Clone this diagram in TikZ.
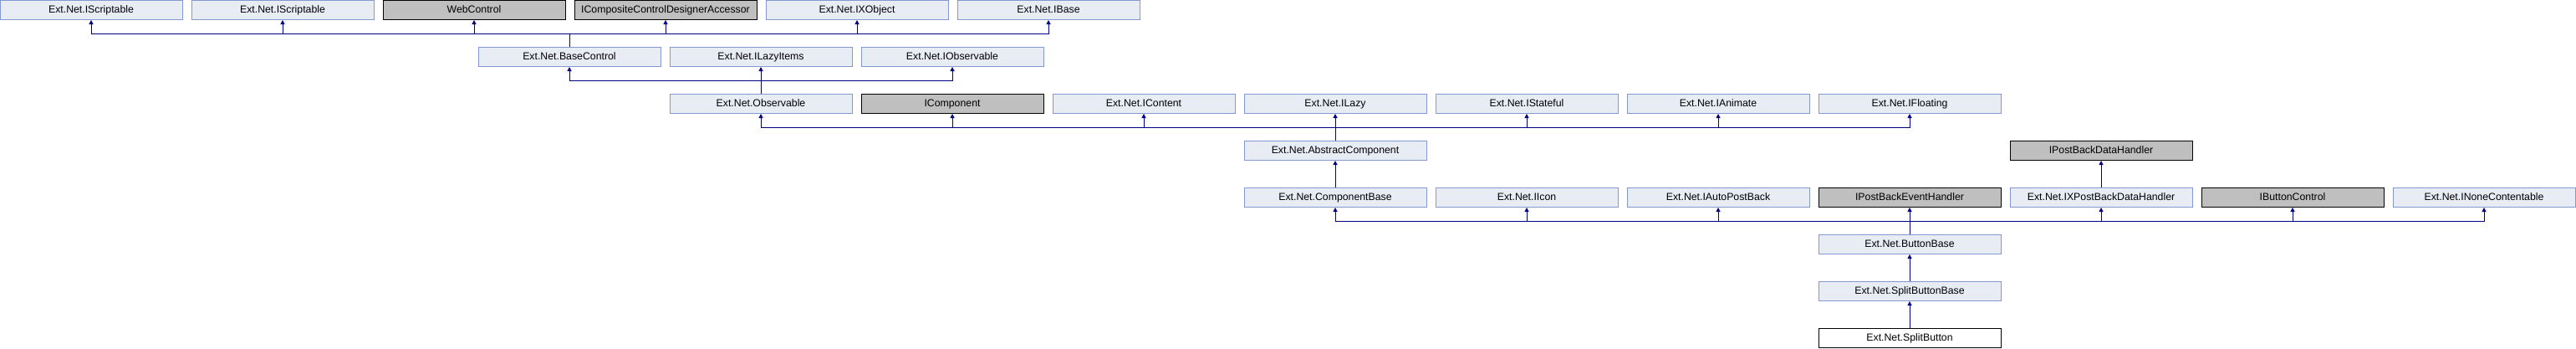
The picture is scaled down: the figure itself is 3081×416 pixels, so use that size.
\documentclass[tikz,border=0pt]{standalone}
\usepackage{fontspec}
\setmainfont{Liberation Sans}
\usepackage{tikz}
\usetikzlibrary{arrows.meta,calc}
\definecolor{boxfill}{RGB}{232,236,245}
\definecolor{boxline}{RGB}{132,151,206}
\definecolor{extfill}{RGB}{191,191,191}
\definecolor{edgecol}{RGB}{0,0,132}

\begin{document}
\begin{tikzpicture}[x=1pt,y=-1pt,
    every node/.style={inner sep=0,outer sep=0,minimum width=218pt,minimum height=23pt,
        text height=9.8pt,text depth=1pt,
        font=\fontsize{12.3}{14}\selectfont,line width=1pt},
    cls/.style={draw=boxline,fill=boxfill},
    ext/.style={draw=black,fill=extfill},
    self/.style={draw=black,fill=white},
    link/.style={draw=edgecol,line width=1pt,shorten >=1pt,
        -{Triangle[length=5pt,width=5pt]}}]
    \useasboundingbox (0,0) rectangle (3081,416);
    % row 0
    \node[cls](is1)   at (109,11.5)  {Ext.Net.IScriptable};
    \node[cls](is2)   at (338,11.5)  {Ext.Net.IScriptable};
    \node[ext](wc)    at (567,11.5)  {WebControl};
    \node[ext](iccda) at (796,11.5)  {ICompositeControlDesignerAccessor};
    \node[cls](ixo)   at (1025,11.5) {Ext.Net.IXObject};
    \node[cls](ib)    at (1254,11.5) {Ext.Net.IBase};
    % row 1
    \node[cls](bc)    at (681,67.5)  {Ext.Net.BaseControl};
    \node[cls](ili)   at (910,67.5)  {Ext.Net.ILazyItems};
    \node[cls](iobs)  at (1139,67.5) {Ext.Net.IObservable};
    % row 2
    \node[cls](obs)   at (910,123.5)  {Ext.Net.Observable};
    \node[ext](icomp) at (1139,123.5) {IComponent};
    \node[cls](icont) at (1368,123.5) {Ext.Net.IContent};
    \node[cls](ilazy) at (1597,123.5) {Ext.Net.ILazy};
    \node[cls](ist)   at (1826,123.5) {Ext.Net.IStateful};
    \node[cls](ian)   at (2055,123.5) {Ext.Net.IAnimate};
    \node[cls](ifl)   at (2284,123.5) {Ext.Net.IFloating};
    % row 3
    \node[cls](abs)   at (1597,179.5) {Ext.Net.AbstractComponent};
    \node[ext](ipbdh) at (2513,179.5) {IPostBackDataHandler};
    % row 4
    \node[cls](cb)    at (1597,235.5) {Ext.Net.ComponentBase};
    \node[cls](iicon) at (1826,235.5) {Ext.Net.IIcon};
    \node[cls](iapb)  at (2055,235.5) {Ext.Net.IAutoPostBack};
    \node[ext](ipbeh) at (2284,235.5) {IPostBackEventHandler};
    \node[cls](ixpb)  at (2513,235.5) {Ext.Net.IXPostBackDataHandler};
    \node[ext](ibc)   at (2742,235.5) {IButtonControl};
    \node[cls](inc)   at (2971,235.5) {Ext.Net.INoneContentable};
    % rows 5-7
    \node[cls](bb)    at (2284,291.5) {Ext.Net.ButtonBase};
    \node[cls](sbb)   at (2284,347.5) {Ext.Net.SplitButtonBase};
    \node[self](sb)   at (2284,403.5) {Ext.Net.SplitButton};

    \draw[link] (bc.north) -- ++(0,-16) -| (is1.south);
    \draw[link] (bc.north) -- ++(0,-16) -| (is2.south);
    \draw[link] (bc.north) -- ++(0,-16) -| (wc.south);
    \draw[link] (bc.north) -- ++(0,-16) -| (iccda.south);
    \draw[link] (bc.north) -- ++(0,-16) -| (ixo.south);
    \draw[link] (bc.north) -- ++(0,-16) -| (ib.south);

    \draw[link] (obs.north) -- ++(0,-16) -| (bc.south);
    \draw[link] (obs.north) -- (ili.south);
    \draw[link] (obs.north) -- ++(0,-16) -| (iobs.south);

    \draw[link] (abs.north) -- ++(0,-16) -| (obs.south);
    \draw[link] (abs.north) -- ++(0,-16) -| (icomp.south);
    \draw[link] (abs.north) -- ++(0,-16) -| (icont.south);
    \draw[link] (abs.north) -- (ilazy.south);
    \draw[link] (abs.north) -- ++(0,-16) -| (ist.south);
    \draw[link] (abs.north) -- ++(0,-16) -| (ian.south);
    \draw[link] (abs.north) -- ++(0,-16) -| (ifl.south);

    \draw[link] (cb.north) -- (abs.south);
    \draw[link] (ixpb.north) -- (ipbdh.south);

    \draw[link] (bb.north) -- ++(0,-16) -| (cb.south);
    \draw[link] (bb.north) -- ++(0,-16) -| (iicon.south);
    \draw[link] (bb.north) -- ++(0,-16) -| (iapb.south);
    \draw[link] (bb.north) -- (ipbeh.south);
    \draw[link] (bb.north) -- ++(0,-16) -| (ixpb.south);
    \draw[link] (bb.north) -- ++(0,-16) -| (ibc.south);
    \draw[link] (bb.north) -- ++(0,-16) -| (inc.south);

    \draw[link] (sbb.north) -- (bb.south);
    \draw[link] (sb.north) -- (sbb.south);
\end{tikzpicture}
\end{document}
